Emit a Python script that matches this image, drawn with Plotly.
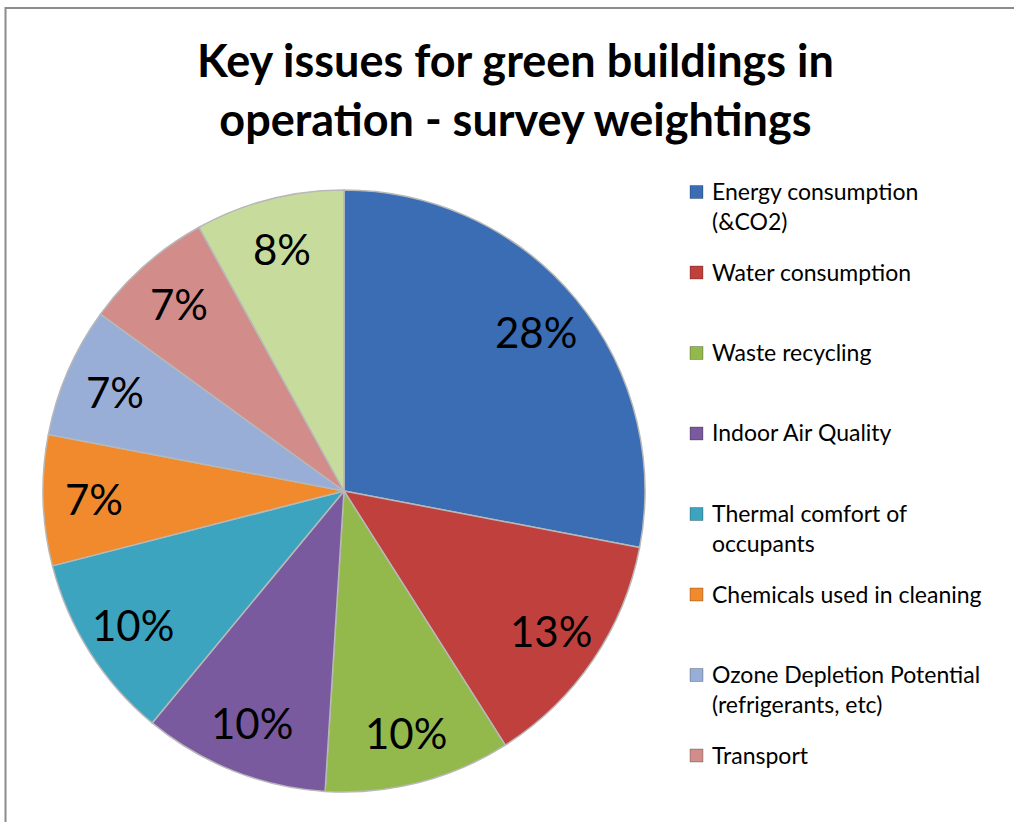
import math
import plotly.graph_objects as go

# Survey weightings (percent) for key green-building issues in operation
issues = [
    "Energy consumption (&CO2)",
    "Water consumption",
    "Waste recycling",
    "Indoor Air Quality",
    "Thermal comfort of occupants",
    "Chemicals used in cleaning",
    "Ozone Depletion Potential (refrigerants, etc)",
    "Transport",
    "Other",
]
weights = [28, 13, 10, 10, 10, 7, 7, 7, 8]

# Legend text as it wraps in the key (only the first eight issues are listed)
legend_lines = [
    "Energy consumption<br>(&CO2)",
    "Water consumption",
    "Waste recycling",
    "Indoor Air Quality",
    "Thermal comfort of<br>occupants",
    "Chemicals used in cleaning",
    "Ozone Depletion Potential<br>(refrigerants, etc)",
    "Transport",
]

slice_colors = [
    "#3A6DB3", "#C0403D", "#93B84B", "#7A5A9E", "#3DA4C0",
    "#F08A2C", "#98AED6", "#D28D8B", "#C7DC9C",
]

W, H = 1014, 822
cx, cy, r = 344, 491, 301  # pie centre and radius in pixels
label_r = 0.83             # label distance from centre, as a fraction of r

fig = go.Figure()
fig.add_trace(go.Pie(
    labels=issues,
    values=weights,
    sort=False,
    direction="clockwise",
    rotation=0,
    marker=dict(colors=slice_colors, line=dict(color="#B8B8B8", width=1.5)),
    textinfo="none",
    showlegend=False,
    hoverinfo="label+percent",
    domain=dict(x=[(cx - r) / W, (cx + r) / W],
                y=[1 - (cy + r) / H, 1 - (cy - r) / H]),
))

shapes = [dict(type="rect", xref="paper", yref="paper",
               x0=5.5 / W, x1=1.02, y0=-0.02, y1=1 - 8 / H,
               line=dict(color="#8C8C8C", width=2), fillcolor="rgba(0,0,0,0)")]
annotations = []

# Percentage labels placed on each slice's bisector
total = sum(weights)
start = 0.0
for w in weights:
    mid = 2 * math.pi * (start + w / 2) / total  # clockwise from 12 o'clock
    px = cx + label_r * r * math.sin(mid)
    py = cy - label_r * r * math.cos(mid)
    annotations.append(dict(xref="paper", yref="paper", x=px / W, y=1 - py / H,
                            xanchor="center", yanchor="middle",
                            text=f"{w}%", showarrow=False,
                            font=dict(family="Lato", size=42, color="black")))
    start += w

# Key: coloured square and wrapped label for each listed issue
for i, text in enumerate(legend_lines):
    ytop = 192 + 80.5 * i  # centre of first text line, px
    shapes.append(dict(type="rect", xref="paper", yref="paper",
                       x0=690 / W, x1=703 / W,
                       y0=1 - (ytop + 6.5) / H, y1=1 - (ytop - 6.5) / H,
                       fillcolor=slice_colors[i],
                       line=dict(color="rgba(0,0,0,0.25)", width=1)))
    annotations.append(dict(xref="paper", yref="paper",
                            x=710 / W, y=1 - (ytop - 17) / H,
                            xanchor="left", yanchor="top", align="left",
                            text=text, showarrow=False,
                            font=dict(family="Lato", size=23, color="black")))

annotations.append(dict(xref="paper", yref="paper", x=515 / W, y=1 - 31 / H,
                        xanchor="center", yanchor="top", align="center",
                        text="<b>Key issues for green buildings in<br>operation - survey weightings</b>",
                        showarrow=False,
                        font=dict(family="Lato", size=45, color="black")))

fig.update_layout(
    width=W, height=H,
    margin=dict(l=0, r=0, t=0, b=0),
    paper_bgcolor="white",
    plot_bgcolor="white",
    shapes=shapes,
    annotations=annotations,
)

fig.write_html("out.html")
